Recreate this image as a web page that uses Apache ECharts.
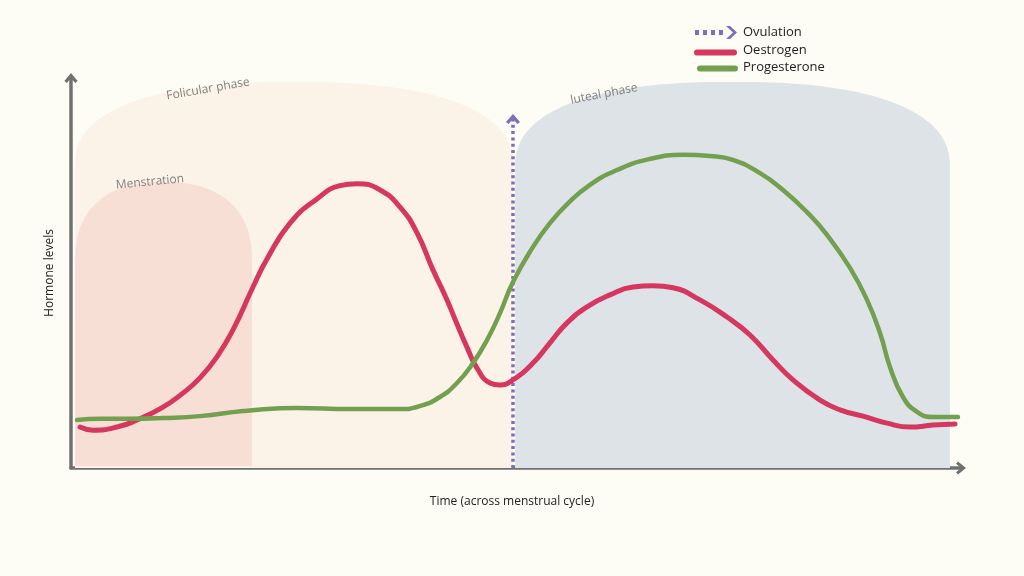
<!DOCTYPE html>
<html><head><meta charset="utf-8">
<script src="https://cdn.jsdelivr.net/npm/echarts@6/dist/echarts.min.js"></script>
<style>html,body{margin:0;padding:0;background:#fdfdf5;}#c{width:1024px;height:576px;}</style>
</head><body><div id="c"></div>
<script>
// ---- data ----
const phaseNames = ['Folicular phase', 'luteal phase', 'Menstration'];
const phaseStart = [0.45, 49.9, 0.45];
const phaseEnd = [49.66, 98.76, 20.34];
const phaseTop = [99, 99, 73.3];

const ovulationX = 49.66;
const ovulationTop = 89.5;

const oestrogen = [
  [1.01,10.5],[2.47,9.7],[5.17,10.5],[7.42,12.3],[10.34,15.6],[12.58,19.2],[14.49,23.1],[16.40,28.5],
  [18.20,35.4],[20.45,46.4],[22.02,53.6],[24.61,62.8],[27.64,69.0],[30.22,72.4],[32.13,72.9],[34.72,71.3],
  [36.97,66.9],[38.88,60.3],[40.67,50.8],[42.25,43.1],[43.37,36.9],[44.49,31.0],[45.62,25.6],[47.08,21.8],
  [48.20,21.3],[49.66,22.6],[51.91,26.9],[53.82,32.1],[55.73,37.2],[57.98,41.3],[60.56,44.4],[63.15,46.4],
  [65.39,46.7],[67.64,46.2],[70.67,43.1],[73.71,38.7],[76.29,34.1],[78.88,27.7],[81.12,22.6],[84.16,17.4],
  [86.40,14.9],[88.99,13.3],[91.69,11.5],[94.27,10.5],[96.85,11.0],[99.33,11.3]
];
const progesterone = [
  [0.67,12.3],[3.26,12.6],[6.63,12.6],[10.34,12.8],[14.49,13.3],[19.33,14.6],[23.48,15.3],[25.39,15.4],
  [31.35,15.1],[36.97,15.1],[39.21,15.9],[41.46,18.2],[43.37,21.8],[45.17,26.9],[46.74,32.8],[48.20,39.7],
  [49.66,47.7],[51.91,56.7],[53.82,62.8],[55.73,67.6],[58.31,72.6],[61.35,76.4],[64.94,79.2],[68.76,80.3],
  [71.80,80.0],[74.38,79.0],[77.42,75.6],[80.00,71.3],[82.70,65.6],[84.94,59.8],[87.53,51.3],[89.44,43.1],
  [90.90,34.6],[92.02,25.9],[93.48,18.2],[95.06,14.4],[96.85,13.1],[99.66,13.1]
];

// ---- styles ----
const phaseColors = ['#fcf3e8', '#dde3e7', '#f7dfd5'];
const phaseShoulder = [84, 86, 80];
const cRed = '#d5375e', cGreen = '#72a04f', cPurple = '#7b6fba', cAxis = '#707070';
const chevronUp = 'path://M0 8.5L7 0L14 8.5L11.4 10.6L7 5.2L2.6 10.6Z';

const chart = echarts.init(document.getElementById('c'));

function phaseShape(params, api) {
  const i = params.dataIndex;
  const p0 = api.coord([api.value(0), 0]);
  const p1 = api.coord([api.value(1), api.value(2)]);
  const left = p0[0], right = p1[0], top = p1[1];
  const bottom = i === 2 ? p0[1] - 2 : p0[1];
  const sh = phaseShoulder[i];
  const side = top + sh;
  const cx = (left + right) / 2, a = (right - left) / 2;
  const e = 2 / 2.4;
  const pts = [[left, bottom]];
  const N = 120;
  for (let k = 0; k <= N; k++) {
    const t = Math.PI - Math.PI * k / N;
    const c = Math.cos(t), s = Math.sin(t);
    const x = cx + a * Math.sign(c) * Math.pow(Math.abs(c), e);
    const y = side - sh * Math.pow(Math.abs(s), e);
    pts.push([x, y]);
  }
  pts.push([right, bottom]);
  return { type: 'polygon', shape: { points: pts }, style: { fill: phaseColors[i] } };
}

const option = {
  backgroundColor: '#fdfdf5',
  animation: false,
  grid: { left: 71, right: 63, top: 78, bottom: 108 },
  xAxis: {
    type: 'value', min: 0, max: 100,
    name: 'Time (across menstrual cycle)', nameLocation: 'middle', nameGap: 28,
    nameTextStyle: { color: '#222', fontSize: 12, fontFamily: 'Open Sans', padding: [0, 8, 0, 0] },
    axisLine: { show: true, lineStyle: { color: cAxis, width: 3.5 }, symbol: ['none', chevronUp], symbolSize: [14, 10] },
    axisTick: { show: false }, axisLabel: { show: false }, splitLine: { show: false }
  },
  yAxis: {
    type: 'value', min: 0, max: 100,
    name: 'Hormone levels', nameLocation: 'middle', nameGap: 15,
    nameTextStyle: { color: '#222', fontSize: 12, fontFamily: 'Open Sans' },
    axisLine: { show: true, lineStyle: { color: cAxis, width: 3.5 }, symbol: ['none', chevronUp], symbolSize: [14, 10] },
    axisTick: { show: false }, axisLabel: { show: false }, splitLine: { show: false }
  },
  legend: {
    orient: 'vertical', left: 689, top: 21, itemWidth: 44, itemHeight: 13, itemGap: 4.5,
    selectedMode: false,
    textStyle: { color: '#222', fontSize: 13, fontFamily: 'Open Sans' },
    data: [
      { name: 'Ovulation', icon: 'path://M0 4h4v5H0z M8 4h4v5H8z M16 4h4v5h-4z M24 4h4v5h-4z M31 0h4l7 6.5l-7 6.5h-4l7-6.5z', itemStyle: { color: cPurple, borderWidth: 0 } },
      { name: 'Oestrogen', icon: 'path://M0 0h0.01v0.01H0z M44 12.99h0.01v0.01h-0.01z M2 6h38a3 3 0 0 1 0 6H2a3 3 0 0 1 0-6z', itemStyle: { color: cRed, borderWidth: 0 } },
      { name: 'Progesterone', icon: 'path://M0 0h0.01v0.01H0z M44 12.99h0.01v0.01h-0.01z M6 4.5h35a3 3 0 0 1 0 6H6a3 3 0 0 1 0-6z', itemStyle: { color: cGreen, borderWidth: 0 } }
    ]
  },
  graphic: [
    { type: 'text', x: 208, y: 89, rotation: 0.17, silent: true, z: 10,
      style: { text: 'Folicular phase', fill: '#808080', font: '12px "Open Sans"', align: 'center', verticalAlign: 'middle' } },
    { type: 'text', x: 150, y: 182, rotation: 0.1, silent: true, z: 10,
      style: { text: 'Menstration', fill: '#808080', font: '12px "Open Sans"', align: 'center', verticalAlign: 'middle' } },
    { type: 'text', x: 604, y: 94, rotation: 0.19, silent: true, z: 10,
      style: { text: 'luteal phase', fill: '#808080', font: '12px "Open Sans"', align: 'center', verticalAlign: 'middle' } }
  ],
  series: [
    {
      type: 'custom', name: 'phases', silent: true, z: 1,
      data: phaseNames.map((n, i) => ({ name: n, value: [phaseStart[i], phaseEnd[i], phaseTop[i]] })),
      encode: { x: [0, 1], y: 2 },
      renderItem: phaseShape
    },
    {
      type: 'line', name: 'Ovulation', z: 3, silent: true,
      symbol: 'none', showSymbol: true,
      data: [[ovulationX, 0], { value: [ovulationX, ovulationTop], symbol: chevronUp, symbolSize: [14, 10] }],
      lineStyle: { color: cPurple, width: 3.5, type: [3, 3.3] },
      itemStyle: { color: cPurple, borderWidth: 0 }
    },
    {
      type: 'line', name: 'Oestrogen', z: 4, smooth: 0.5, showSymbol: false, silent: true,
      data: oestrogen,
      lineStyle: { color: cRed, width: 5, cap: 'round', join: 'round' },
      itemStyle: { color: cRed }
    },
    {
      type: 'line', name: 'Progesterone', z: 5, smooth: 0.5, showSymbol: false, silent: true,
      data: progesterone,
      lineStyle: { color: cGreen, width: 4.5, cap: 'round', join: 'round' },
      itemStyle: { color: cGreen }
    }
  ]
};
chart.setOption(option);
</script></body></html>
